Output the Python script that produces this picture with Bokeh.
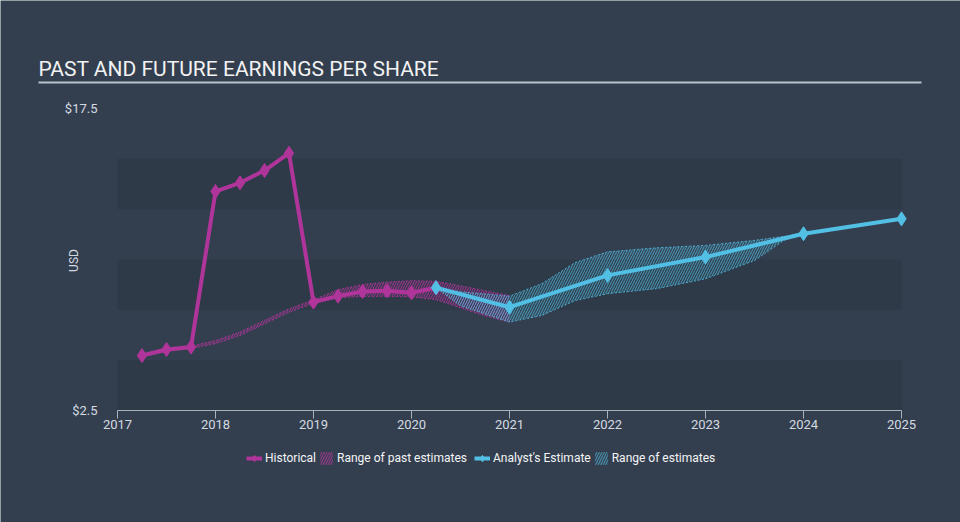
import math
from bokeh.plotting import figure
from bokeh.models import (Range1d, FixedTicker, Label, BoxAnnotation, Legend, LegendItem)
from bokeh.embed import file_html
from bokeh.resources import INLINE

# ---------------- data ----------------
hist_x = [2017.25, 2017.5, 2017.75, 2018.0, 2018.25, 2018.5, 2018.75, 2019.0,
          2019.25, 2019.5, 2019.75, 2020.0, 2020.25]
hist_y = [5.23, 5.53, 5.65, 13.38, 13.81, 14.42, 15.28, 7.88,
          8.18, 8.41, 8.45, 8.35, 8.6]

est_x = [2020.25, 2021.0, 2022.0, 2023.0, 2024.0, 2025.0]
est_y = [8.6, 7.63, 9.21, 10.12, 11.28, 12.02]

past_rng_x = [2017.25, 2017.5, 2017.75, 2018.0, 2018.25, 2018.5, 2018.75, 2019.0,
              2019.25, 2019.5, 2019.75, 2020.0, 2020.25, 2020.5, 2020.75, 2021.0]
past_rng_low = [5.18, 5.42, 5.58, 5.82, 6.22, 6.8, 7.38, 7.82,
                8.1, 8.16, 8.17, 8.14, 8.0, 7.6, 7.2, 6.89]
past_rng_high = [5.28, 5.52, 5.7, 5.98, 6.4, 6.98, 7.55, 8.0,
                 8.5, 8.76, 8.88, 8.95, 8.92, 8.7, 8.45, 8.21]

est_rng_x = [2020.25, 2020.5, 2021.0, 2021.33, 2021.67, 2022.0, 2022.5, 2023.0,
             2023.5, 2023.8, 2024.0]
est_rng_low = [8.59, 7.7, 6.89, 7.22, 7.96, 8.30, 8.55, 9.04, 9.95, 10.95, 11.28]
est_rng_high = [8.59, 8.4, 8.18, 8.8, 9.85, 10.38, 10.58, 10.70, 10.95, 11.15, 11.28]

x_ticks = [2017, 2018, 2019, 2020, 2021, 2022, 2023, 2024, 2025]
x_tick_labels = ["2017", "2018", "2019", "2020", "2021", "2022", "2023", "2024", "2025"]
y_ticks = [2.5, 17.5]
y_tick_labels = ["$2.5", "$17.5"]
band_ticks = [2.5, 5, 7.5, 10, 12.5, 15]

title_text = "PAST AND FUTURE EARNINGS PER SHARE"
y_label = "USD"

# ---------------- style / layout ----------------
BG = "#333f4f"
BAND = "#2e3a48"
MAG = "#b0359a"
CYAN = "#52bfe5"
TXT = "#d5dae0"
FONT = "Roboto"

W, H = 960, 522
X0, X1 = 2017, 2025          # plotted year span
Y0, Y1 = 2.5, 17.5           # plotted value span
PX_L, PX_R = 117, 901        # pixel columns of X0, X1
PY_T, PY_B = 108, 410        # pixel rows of Y1, Y0
SX = (PX_R - PX_L) / (X1 - X0)
SY = (PY_B - PY_T) / (Y1 - Y0)


def px_to_x(px):
    return X0 + (px - PX_L) / SX


def py_to_y(py):
    return Y0 + (PY_B - py) / SY


p = figure(width=W, height=H, output_backend="svg", toolbar_location=None,
           x_range=Range1d(px_to_x(0), px_to_x(W)),
           y_range=Range1d(py_to_y(H), py_to_y(0)),
           min_border=0, min_border_left=0, min_border_right=0,
           min_border_top=0, min_border_bottom=0,
           background_fill_color=BG, border_fill_color=BG,
           outline_line_color=None)

p.xgrid.visible = False
p.ygrid.visible = False

# alternating background bands over the plotting area
for i in range(0, len(band_ticks) - 1, 2):
    p.add_layout(BoxAnnotation(left=X0, right=X1, bottom=band_ticks[i], top=band_ticks[i + 1],
                               fill_color=BAND, fill_alpha=1.0, line_color=None,
                               level="underlay"))

# axes pinned to the plotting area
xa = p.xaxis[0]
xa.fixed_location = Y0
xa.bounds = (X0, X1)
xa.ticker = FixedTicker(ticks=x_ticks)
xa.major_label_overrides = {t: l for t, l in zip(x_ticks, x_tick_labels)}
xa.axis_line_color = "#a9b2bc"
xa.major_tick_line_color = "#a9b2bc"
xa.major_tick_out = 8
xa.major_tick_in = 0
xa.minor_tick_line_color = None
xa.major_label_text_color = TXT
xa.major_label_text_font = FONT
xa.major_label_text_font_size = "13px"
xa.major_label_standoff = 1

ya = p.yaxis[0]
ya.fixed_location = X0
ya.bounds = (Y0, Y1)
ya.ticker = FixedTicker(ticks=y_ticks)
ya.major_label_overrides = {t: l for t, l in zip(y_ticks, y_tick_labels)}
ya.axis_line_color = None
ya.major_tick_line_color = None
ya.minor_tick_line_color = None
ya.major_label_text_color = TXT
ya.major_label_text_font = FONT
ya.major_label_text_font_size = "13px"
ya.major_label_standoff = 14

# range bands
past_area = p.varea(x=past_rng_x, y1=past_rng_low, y2=past_rng_high,
                    fill_color=MAG, fill_alpha=0.08,
                    hatch_pattern="/", hatch_color=MAG, hatch_alpha=0.85,
                    hatch_scale=5, hatch_weight=1)
p.line(past_rng_x, past_rng_low, line_color=MAG, line_width=1, line_dash="2 2", line_alpha=0.8)
p.line(past_rng_x, past_rng_high, line_color=MAG, line_width=1, line_dash="2 2", line_alpha=0.8)

est_area = p.varea(x=est_rng_x, y1=est_rng_low, y2=est_rng_high,
                   fill_color=CYAN, fill_alpha=0.06,
                   hatch_pattern="/", hatch_color=CYAN, hatch_alpha=0.7,
                   hatch_scale=5, hatch_weight=1)
p.line(est_rng_x, est_rng_low, line_color=CYAN, line_width=1, line_dash="2 2", line_alpha=0.8)
p.line(est_rng_x, est_rng_high, line_color=CYAN, line_width=1, line_dash="2 2", line_alpha=0.8)

# main lines
hist_line = p.line(hist_x, hist_y, line_color=MAG, line_width=4, line_join="round")
hist_pts = p.scatter(hist_x, hist_y, marker="diamond", size=14,
                     fill_color=MAG, line_color=MAG)
est_line = p.line(est_x, est_y, line_color=CYAN, line_width=4, line_join="round")
est_pts = p.scatter(est_x, est_y, marker="diamond", size=14,
                    fill_color=CYAN, line_color=CYAN)

# title, underline, axis title
p.add_layout(Label(x=px_to_x(38), y=py_to_y(68), text=title_text,
                   text_font=FONT, text_font_size="21px", text_color="#f2f2f2",
                   text_baseline="middle", text_align="left"))
p.add_layout(BoxAnnotation(left=px_to_x(38), right=px_to_x(921),
                           top=py_to_y(81), bottom=py_to_y(83),
                           fill_color="#bcc3ca", fill_alpha=1.0, line_color=None))
p.add_layout(Label(x=px_to_x(73), y=py_to_y(260), text=y_label, angle=math.pi / 2,
                   text_font=FONT, text_font_size="12px", text_color=TXT,
                   text_baseline="middle", text_align="center"))

# legends (past group and future group)
legend_style = dict(orientation="horizontal",
                    background_fill_alpha=0, border_line_color=None,
                    label_text_color="#f4f5f6", label_text_font=FONT,
                    label_text_font_size="12px",
                    glyph_width=16, glyph_height=16, label_standoff=3, spacing=2,
                    padding=0, margin=0)
legend_past = Legend(items=[
    LegendItem(label="Historical", renderers=[hist_line, hist_pts]),
    LegendItem(label="Range of past estimates", renderers=[past_area]),
], location=(246, H - 466), **legend_style)
legend_future = Legend(items=[
    LegendItem(label="Analyst's Estimate", renderers=[est_line, est_pts]),
    LegendItem(label="Range of estimates", renderers=[est_area]),
], location=(474, H - 466), **legend_style)
p.add_layout(legend_past)
p.add_layout(legend_future)

open("out.html", "w").write(file_html(p, INLINE))
